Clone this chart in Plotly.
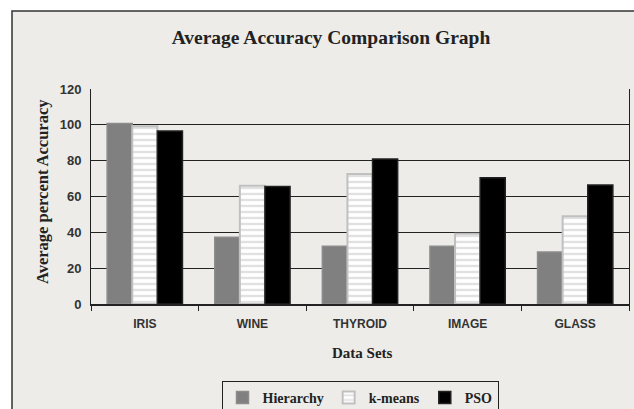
import plotly.graph_objects as go

categories = ["IRIS", "WINE", "THYROID", "IMAGE", "GLASS"]
hierarchy = [100.8, 37.2, 32.3, 32.3, 29.0]
kmeans = [99.2, 66.0, 72.5, 39.2, 49.0]
pso = [96.6, 65.6, 81.0, 70.5, 66.4]
y_ticks = [0, 20, 40, 60, 80, 100, 120]

BG = "#EDECE8"
DARK = "#222222"
W, H = 634, 409
L, R, T, B = 91, 5, 89, 105
pw, ph = W - L - R, H - T - B

def px_x(x):
    return (x - L) / pw

def px_y(y):
    return (H - B - y) / ph

fig = go.Figure()
fig.add_trace(go.Bar(
    x=categories, y=hierarchy, name="Hierarchy",
    marker=dict(color="#808080", line=dict(color="#8c8c8c", width=1.5)),
))
fig.add_trace(go.Bar(
    x=categories, y=kmeans, name="k-means",
    marker=dict(color="#FFFFFF", line=dict(color="#c0c0c0", width=2),
                pattern=dict(shape="-", bgcolor="#FFFFFF", fgcolor="#c4c4c4",
                             size=6, solidity=0.4, fillmode="overlay")),
))
fig.add_trace(go.Bar(
    x=categories, y=pso, name="PSO",
    marker=dict(color="#000000", line=dict(color="#222222", width=1.5)),
))

fig.add_shape(type="rect", xref="paper", yref="paper",
              x0=px_x(12), x1=px_x(700), y0=px_y(460), y1=px_y(11),
              line=dict(color="#333333", width=1.5), fillcolor=BG, layer="below")

fig.add_annotation(text="<b>Average percent Accuracy</b>", xref="paper", yref="paper",
                   x=px_x(42), y=px_y(192), textangle=-90, showarrow=False,
                   font=dict(family="Liberation Serif", size=16.5, color=DARK),
                   xanchor="center", yanchor="middle")
fig.add_annotation(text="<b>Data Sets</b>", xref="paper", yref="paper",
                   x=px_x(362), y=px_y(353), showarrow=False,
                   font=dict(family="Liberation Serif", size=15, color=DARK),
                   xanchor="center", yanchor="middle")

fig.update_layout(
    width=W, height=H,
    margin=dict(l=L, r=R, t=T, b=B, autoexpand=False),
    paper_bgcolor="#FFFFFF", plot_bgcolor=BG,
    barmode="group", bargap=0.3, bargroupgap=0,
    title=dict(text="<b>Average Accuracy Comparison Graph</b>", x=(331) / W, xanchor="center",
               y=1 - 37 / H, yanchor="middle",
               font=dict(family="Liberation Serif", size=19.5, color=DARK)),
    font=dict(family="Liberation Sans", color=DARK),
    legend=dict(orientation="h", x=px_x(360), xanchor="center", y=px_y(381), yanchor="top",
                bgcolor=BG, bordercolor=DARK, borderwidth=1,
                font=dict(family="Liberation Serif", size=14, color=DARK, weight="bold"),
                itemwidth=30, traceorder="normal"),
    showlegend=True,
)
fig.update_xaxes(showline=True, linecolor=DARK, linewidth=2, ticks="outside",
                 tickson="boundaries", ticklen=5, tickcolor=DARK, mirror=False,
                 tickfont=dict(family="Liberation Sans", size=12, color="#333333", weight="bold"),
                 ticklabelstandoff=8)
fig.update_yaxes(range=[0, 120], tickvals=y_ticks, showgrid=True, gridcolor=DARK,
                 gridwidth=1, showline=True, linecolor=DARK, linewidth=1, mirror=True,
                 zeroline=False, ticklabelstandoff=6,
                 tickfont=dict(family="Liberation Sans", size=13, color="#333333", weight="bold"))

fig.write_html("out.html", config={"displayModeBar": False},
               post_script="document.body.style.margin='0';document.body.style.overflow='hidden';")
